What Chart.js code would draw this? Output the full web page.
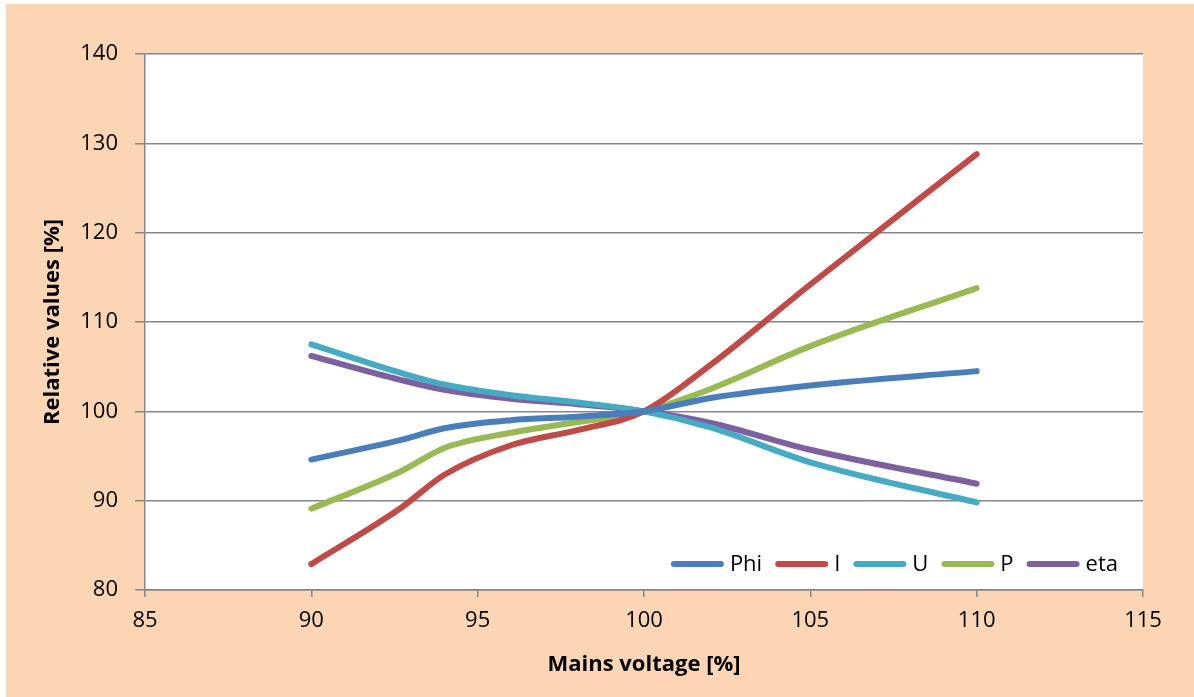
<!DOCTYPE html>
<html>
<head>
<meta charset="utf-8">
<script src="https://cdn.jsdelivr.net/npm/chart.js@4/dist/chart.umd.min.js"></script>
<style>
  html, body { margin: 0; padding: 0; background: #ffffff; }
  #wrap { position: absolute; left: 6px; top: 4px; width: 1188px; height: 693px; }
  canvas { display: block; background: #FCD5B4; }
</style>
</head>
<body>
<div id="wrap"><canvas id="c" width="1188" height="693"></canvas></div>
<script>
// ---- data ----
const voltage = [90, 92.7, 94, 96, 98, 100, 102, 105, 110];
const phiValues = [94.6, 96.8, 98.1, 99.0, 99.4, 100, 101.5, 102.9, 104.5];
const iValues   = [82.9, 89.2, 92.9, 96.2, 97.9, 100, 105.2, 114.2, 128.8];
const uValues   = [107.5, 104.3, 103.0, 101.8, 101.0, 100, 98.2, 94.3, 89.8];
const pValues   = [89.1, 93.3, 95.9, 97.6, 98.8, 100, 102.5, 107.3, 113.8];
const etaValues = [106.2, 103.5, 102.4, 101.4, 100.8, 100, 98.7, 95.7, 91.9];
const seriesNames = ['Phi', 'I', 'U', 'P', 'eta'];
const seriesColors = ['#4A7EBB', '#BE4B48', '#46AAC5', '#98B954', '#7D60A0'];
const xTickMin = 85, xTickMax = 115, xTickStep = 5;
const yTickMin = 80, yTickMax = 140, yTickStep = 10;
const xTitle = 'Mains voltage [%]';
const yTitle = 'Relative values [%]';

const FONT = "'Open Sans', 'Liberation Sans', sans-serif";
const allValues = [phiValues, iValues, uValues, pValues, etaValues];

const datasets = allValues.map((vals, k) => ({
  label: seriesNames[k],
  data: voltage.map((v, i) => ({ x: v, y: vals[i] })),
  borderColor: seriesColors[k],
  backgroundColor: seriesColors[k],
  borderWidth: 6,
  borderCapStyle: 'round',
  borderJoinStyle: 'round',
  pointRadius: 0,
  pointHoverRadius: 0,
  cubicInterpolationMode: 'monotone',
  tension: 0.4,
  fill: false
}));

const plotBg = {
  id: 'plotBg',
  beforeDraw(chart) {
    const { ctx, chartArea: a } = chart;
    ctx.save();
    ctx.fillStyle = '#ffffff';
    ctx.fillRect(a.left, a.top, a.right - a.left, a.bottom - a.top);
    ctx.restore();
  }
};

const customLegend = {
  id: 'customLegend',
  afterDraw(chart) {
    const ctx = chart.ctx;
    ctx.save();
    ctx.font = '22px ' + FONT;
    ctx.textBaseline = 'middle';
    ctx.textAlign = 'left';
    const lineLen = 53, lineGap = 6, itemGap = 13;
    const items = chart.data.datasets.map(d => ({ label: d.label, color: d.borderColor, w: ctx.measureText(d.label).width }));
    let total = 0;
    items.forEach((it, i) => { total += lineLen + lineGap + it.w + (i < items.length - 1 ? itemGap : 0); });
    const right = 1112, y = 560;
    let x = right - total;
    items.forEach(it => {
      ctx.strokeStyle = it.color;
      ctx.lineWidth = 6;
      ctx.lineCap = 'round';
      ctx.beginPath();
      ctx.moveTo(x + 3, y);
      ctx.lineTo(x + lineLen - 3, y);
      ctx.stroke();
      ctx.fillStyle = '#000000';
      ctx.fillText(it.label, x + lineLen + lineGap, y + 1);
      x += lineLen + lineGap + it.w + itemGap;
    });
    ctx.restore();
  }
};

new Chart(document.getElementById('c'), {
  type: 'line',
  data: { datasets },
  options: {
    responsive: false,
    animation: false,
    events: [],
    layout: { padding: { left: 0, right: 51, top: 50, bottom: 0 } },
    plugins: { legend: { display: false }, tooltip: { enabled: false } },
    scales: {
      x: {
        type: 'linear',
        min: xTickMin, max: xTickMax,
        ticks: { stepSize: xTickStep, color: '#000000', font: { family: FONT, size: 22 }, padding: 11, maxRotation: 0 },
        grid: { display: true, drawOnChartArea: false, drawTicks: true, tickLength: 7, color: '#868686', lineWidth: 1.5 },
        border: { display: true, color: '#868686', width: 1.5 },
        title: { display: true, text: xTitle, color: '#000000', font: { family: FONT, size: 22, weight: 'bold' }, padding: { top: 0, bottom: 19 } },
        afterFit(scale) { scale.height = 107; }
      },
      y: {
        type: 'linear',
        min: yTickMin, max: yTickMax,
        ticks: { stepSize: yTickStep, color: '#000000', font: { family: FONT, size: 22 }, padding: 17 },
        grid: { display: true, drawOnChartArea: true, drawTicks: true, tickLength: 10, color: '#868686', lineWidth: 1.5 },
        border: { display: true, color: '#868686', width: 1.5 },
        title: { display: true, text: yTitle, color: '#000000', font: { family: FONT, size: 22, weight: 'bold' }, padding: { top: 34, bottom: 0 } },
        afterFit(scale) { scale.width = 139; }
      }
    }
  },
  plugins: [plotBg, customLegend]
});
</script>
</body>
</html>
